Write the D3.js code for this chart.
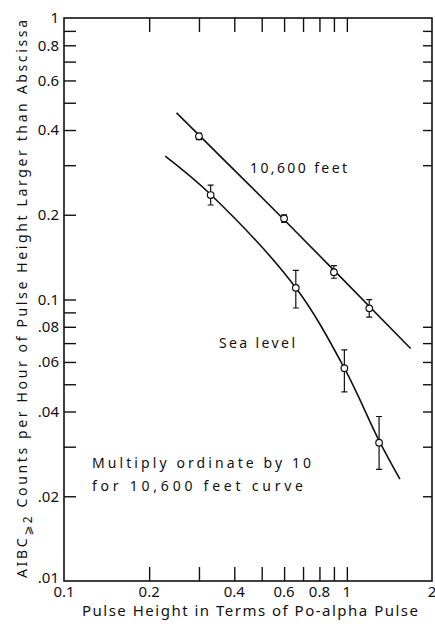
<!DOCTYPE html>
<html>
<head>
<meta charset="utf-8">
<script src="https://cdn.jsdelivr.net/npm/d3@7"></script>
<style>
  html, body { margin: 0; padding: 0; background: #fff; }
  svg { display: block; }
  text { font-family: "Noto Sans", "DejaVu Sans", sans-serif; fill: #111; }
</style>
</head>
<body>
<svg id="chart" width="435" height="626"></svg>
<script>
// Measured points, 10,600 feet (counts per hour, multiplied by 10)
const highX  = [0.30, 0.60, 0.90, 1.20];
const highY  = [0.380, 0.194, 0.125, 0.093];
const highLo = [0.370, 0.188, 0.119, 0.0866];
const highHi = [0.390, 0.200, 0.132, 0.0999];

// Measured points, sea level
const seaX  = [0.33, 0.66, 0.98, 1.30];
const seaY  = [0.235, 0.110, 0.057, 0.031];
const seaLo = [0.2166, 0.0933, 0.047, 0.0249];
const seaHi = [0.255, 0.127, 0.0662, 0.0384];

// Fitted curves drawn through the points
const highCurveX = [0.25, 0.60, 1.68];
const highCurveY = [0.46, 0.192, 0.067];
const seaCurveX  = [0.228, 0.33, 0.66, 0.98, 1.30, 1.54];
const seaCurveY  = [0.323, 0.236, 0.110, 0.057, 0.0315, 0.023];

// Tick positions and labels
const xTicks      = [0.2, 0.3, 0.4, 0.5, 0.6, 0.7, 0.8, 0.9, 1];
const xLabelVals  = [0.1, 0.2, 0.4, 0.6, 0.8, 1, 2];
const xLabelText  = ["0.1", "0.2", "0.4", "0.6", "0.8", "1", "2"];
const yLeftTicks  = [0.9, 0.8, 0.7, 0.6, 0.5, 0.4, 0.3, 0.2, 0.1, 0.09, 0.08, 0.07, 0.06, 0.05, 0.04, 0.03, 0.02];
const yRightTicks = [0.9, 0.8, 0.7, 0.6, 0.5, 0.4, 0.3, 0.08, 0.07, 0.06, 0.05, 0.04, 0.03, 0.02];
const yLabelVals  = [1, 0.8, 0.6, 0.4, 0.2, 0.1, 0.08, 0.06, 0.04, 0.02, 0.01];
const yLabelText  = ["1", "0.8", "0.6", "0.4", "0.2", "0.1", ".08", ".06", ".04", ".02", ".01"];

const svg = d3.select("#chart");
const L = 64, R = 432, T = 18, B = 581;

const x = d3.scaleLog().domain([0.1, 2]).range([L, R]);
const y = d3.scaleLog().domain([0.01, 1]).range([B, T]);

const ink = "#111";

// Inward ticks on all four sides
function ticks(axis, transform) {
  const g = svg.append("g").attr("transform", transform).call(axis);
  g.select(".domain").remove();
  g.selectAll(".tick line").attr("stroke", ink).attr("stroke-width", 1.4);
  g.selectAll(".tick text").remove();
  return g;
}
ticks(d3.axisBottom(x).tickValues(xTicks).tickSize(-14).tickFormat(""), `translate(0,${B})`);
ticks(d3.axisTop(x).tickValues(xTicks).tickSize(-14).tickFormat(""), `translate(0,${T})`);
ticks(d3.axisLeft(y).tickValues(yLeftTicks).tickSize(-12).tickFormat(""), `translate(${L},0)`);
ticks(d3.axisRight(y).tickValues(yRightTicks).tickSize(-9).tickFormat(""), `translate(${R},0)`);

// Frame
svg.append("rect")
  .attr("x", L).attr("y", T).attr("width", R - L).attr("height", B - T)
  .attr("fill", "none").attr("stroke", ink).attr("stroke-width", 1.6);

// Tick labels
svg.append("g").selectAll("text").data(yLabelVals).join("text")
  .attr("x", L - 5)
  .attr("y", d => y(d))
  .attr("dy", d => d === 0.01 ? "0.1em" : "0.36em")
  .attr("text-anchor", "end")
  .attr("font-size", 15)
  .text((d, i) => yLabelText[i]);

svg.append("g").selectAll("text").data(xLabelVals).join("text")
  .attr("x", d => x(d))
  .attr("y", 597)
  .attr("text-anchor", "middle")
  .attr("font-size", 15)
  .text((d, i) => xLabelText[i]);

// Axis titles
svg.append("text")
  .attr("x", 250).attr("y", 616)
  .attr("text-anchor", "middle")
  .attr("font-size", 15)
  .attr("textLength", 336).attr("lengthAdjust", "spacing")
  .text("Pulse Height in Terms of Po-alpha Pulse");

const yt = svg.append("text")
  .attr("transform", "translate(27,578) rotate(-90)")
  .attr("x", 0).attr("y", 0)
  .attr("font-size", 14)
  .attr("textLength", 558).attr("lengthAdjust", "spacing");
yt.append("tspan").text("AIBC");
yt.append("tspan").attr("dy", 5).attr("font-size", 12).text("\u2A7E2");
yt.append("tspan").attr("dy", -5).text(" Counts per Hour of Pulse Height Larger than Abscissa");

// Curves
const line = d3.line().x(d => x(d[0])).y(d => y(d[1])).curve(d3.curveCatmullRom.alpha(0.5));
svg.append("path").datum(d3.zip(highCurveX, highCurveY))
  .attr("d", line).attr("fill", "none").attr("stroke", ink).attr("stroke-width", 1.6);
svg.append("path").datum(d3.zip(seaCurveX, seaCurveY))
  .attr("d", line).attr("fill", "none").attr("stroke", ink).attr("stroke-width", 1.6);

// Points with error bars
function points(xs, ys, lo, hi) {
  const g = svg.append("g");
  const data = xs.map((v, i) => ({ x: v, y: ys[i], lo: lo[i], hi: hi[i] }));
  g.selectAll("path.err").data(data).join("path")
    .attr("class", "err")
    .attr("d", d => {
      const cx = x(d.x), y1 = y(d.hi), y2 = y(d.lo);
      return `M${cx - 3},${y1}H${cx + 3}M${cx},${y1}V${y2}M${cx - 3},${y2}H${cx + 3}`;
    })
    .attr("fill", "none").attr("stroke", ink).attr("stroke-width", 1.2);
  g.selectAll("circle").data(data).join("circle")
    .attr("cx", d => x(d.x)).attr("cy", d => y(d.y)).attr("r", 3.3)
    .attr("fill", "#fff").attr("stroke", ink).attr("stroke-width", 1.2);
}
points(highX, highY, highLo, highHi);
points(seaX, seaY, seaLo, seaHi);

// Curve annotations
svg.append("text").attr("x", 250).attr("y", 173).attr("font-size", 14)
  .attr("textLength", 97).attr("lengthAdjust", "spacing").text("10,600 feet");
svg.append("text").attr("x", 219).attr("y", 348).attr("font-size", 14)
  .attr("textLength", 76).attr("lengthAdjust", "spacing").text("Sea level");
svg.append("text").attr("x", 92).attr("y", 468).attr("font-size", 14)
  .attr("textLength", 219).attr("lengthAdjust", "spacing").text("Multiply ordinate by 10");
svg.append("text").attr("x", 92).attr("y", 491).attr("font-size", 14)
  .attr("textLength", 211).attr("lengthAdjust", "spacing").text("for 10,600 feet curve");
</script>
</body>
</html>
